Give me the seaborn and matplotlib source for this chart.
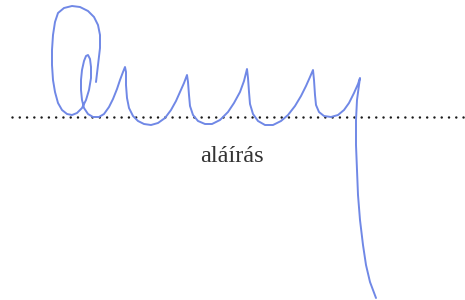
import matplotlib
matplotlib.use("Agg")
import matplotlib.pyplot as plt
import seaborn as sns
import pandas as pd

# signature stroke, traced in pixel coordinates (x right, y down)
sig_x = [96, 98, 100, 100, 98, 94, 88, 80, 72, 64, 58, 55, 53, 52, 52, 53, 55, 58, 62, 67, 72, 77, 82, 86, 89, 91, 91, 90, 88,
         86, 84, 82, 81, 81, 82, 84, 88, 93, 99, 104, 109, 113, 117, 120, 123, 125,
         126, 126, 127, 129, 133, 138, 144, 151, 158, 165, 171, 176, 180, 184, 187,
         188, 189, 190, 193, 198, 205, 212, 220, 228, 234, 240, 244, 247,
         248, 249, 250, 253, 258, 265, 273, 281, 288, 295, 301, 306, 310, 313,
         314, 315, 316, 319, 324, 331, 338, 344, 349, 354, 358, 360,
         359, 357, 356, 356, 357, 358, 360, 363, 366, 370, 376]
sig_y = [82, 65, 48, 35, 25, 17, 11, 7, 6, 8, 13, 22, 35, 50, 65, 80, 92, 103, 110, 114, 115, 113, 108, 100, 90, 78, 67, 59, 55,
         56, 61, 70, 80, 90, 100, 108, 114, 117, 117, 114, 107, 99, 89, 80, 72, 67,
         72, 85, 98, 108, 116, 121, 124, 125, 123, 118, 110, 101, 92, 83, 75,
         82, 95, 106, 115, 121, 124, 124, 120, 112, 103, 92, 81, 69,
         78, 92, 104, 114, 121, 125, 125, 121, 115, 106, 96, 86, 77, 70,
         80, 95, 105, 112, 116, 117, 115, 110, 103, 93, 84, 78,
         85, 100, 120, 145, 170, 195, 220, 245, 265, 282, 298]

baseline_y = 117
label_text = "aláírás"

df = pd.DataFrame({"x": sig_x, "y": sig_y, "order": range(len(sig_x))})

sns.set_theme(style="white")
fig = plt.figure(figsize=(4.65, 3.0), dpi=100)
ax = fig.add_axes([0, 0, 1, 1])

ax.axhline(baseline_y, xmin=12 / 465, xmax=1.0, color="#1a1a1a", lw=1.8,
           linestyle=(0, (0.01, 2.9)), dash_capstyle="round")

sns.lineplot(data=df, x="x", y="y", sort=False, estimator=None, ax=ax,
             color="#7088e6", lw=1.4, solid_joinstyle="round", solid_capstyle="round")

ax.text(232, 157, label_text, ha="center", va="center", fontsize=17.5,
        family=["Liberation Serif", "DejaVu Serif"], color="#333333")

ax.set_xlim(0, 465)
ax.set_ylim(300, 0)
ax.axis("off")
fig.savefig("out.png", dpi=100, facecolor="white")
